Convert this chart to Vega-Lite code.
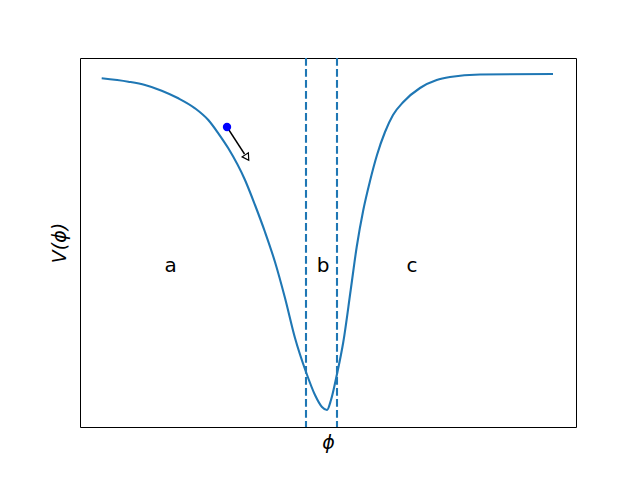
{
  "$schema": "https://vega.github.io/schema/vega-lite/v6.json",
  "width": 496,
  "height": 369,
  "autosize": {"type": "none"},
  "padding": {"left": 80, "top": 58, "right": 64, "bottom": 53},
  "background": "white",
  "config": {"view": {"stroke": "black", "strokeWidth": 1}},
  "datasets": {
    "curve": [
      {"phi": 21.7, "V": 348.7}, {"phi": 48.3, "V": 345.3}, {"phi": 65, "V": 342}, {"phi": 81.7, "V": 336.3},
      {"phi": 98.3, "V": 328.7}, {"phi": 115, "V": 318.7}, {"phi": 128.3, "V": 307}, {"phi": 138.3, "V": 293.7},
      {"phi": 148.3, "V": 278.7}, {"phi": 165, "V": 247},
      {"phi": 175, "V": 222}, {"phi": 185, "V": 195}, {"phi": 195, "V": 165}, {"phi": 205, "V": 129},
      {"phi": 215, "V": 89}, {"phi": 226, "V": 55}, {"phi": 235, "V": 32}, {"phi": 242, "V": 20},
      {"phi": 247, "V": 17}, {"phi": 251, "V": 27}, {"phi": 257, "V": 53}, {"phi": 263.3, "V": 85},
      {"phi": 270.7, "V": 137}, {"phi": 276.7, "V": 180}, {"phi": 283.3, "V": 217}, {"phi": 290, "V": 246},
      {"phi": 297, "V": 272}, {"phi": 305, "V": 295}, {"phi": 313, "V": 312}, {"phi": 323.3, "V": 325},
      {"phi": 340, "V": 339}, {"phi": 356.7, "V": 347}, {"phi": 370, "V": 350}, {"phi": 400, "V": 352.5},
      {"phi": 473, "V": 353}
    ],
    "bounds": [{"phi": 226}, {"phi": 257}],
    "labels": [
      {"phi": 90.5, "V": 155, "t": "a"},
      {"phi": 243, "V": 155, "t": "b"},
      {"phi": 332, "V": 155, "t": "c"}
    ],
    "ball": [{"phi": 147, "V": 300, "phi2": 164.5, "V2": 273, "hx": 167, "hy": 269.5}]
  },
  "encoding": {
    "x": {"field": "phi", "type": "quantitative", "scale": {"domain": [0, 496], "nice": false, "zero": false},
      "axis": {"title": "ϕ", "labels": false, "ticks": false, "domain": false, "grid": false,
        "titleFont": "DejaVu Sans", "titleFontStyle": "italic", "titleFontWeight": "normal", "titleFontSize": 19, "titleColor": "black", "titlePadding": 6}},
    "y": {"field": "V", "type": "quantitative", "scale": {"domain": [0, 369], "nice": false, "zero": false},
      "axis": {"title": "V(ϕ)", "labels": false, "ticks": false, "domain": false, "grid": false,
        "titleFont": "DejaVu Sans", "titleFontStyle": "italic", "titleFontWeight": "normal", "titleFontSize": 19, "titleColor": "black", "titlePadding": 11}}
  },
  "layer": [
    {"data": {"name": "curve"}, "mark": {"type": "line", "color": "#1f77b4", "strokeWidth": 2.1, "interpolate": "monotone"}},
    {"data": {"name": "bounds"}, "mark": {"type": "rule", "color": "#1f77b4", "strokeWidth": 2.1, "strokeDash": [7.7, 3.3]},
      "encoding": {"y": null}},
    {"data": {"name": "labels"}, "mark": {"type": "text", "font": "DejaVu Sans", "fontSize": 20, "color": "black", "align": "center", "baseline": "alphabetic"},
      "encoding": {"text": {"field": "t"}}},
    {"data": {"name": "ball"}, "mark": {"type": "rule", "color": "black", "strokeWidth": 1.4},
      "encoding": {"x2": {"field": "phi2"}, "y2": {"field": "V2"}}},
    {"data": {"name": "ball"}, "mark": {"type": "point", "shape": "triangle-up", "filled": false, "stroke": "black", "strokeWidth": 1.2, "size": 55, "angle": 147, "fill": "white", "opacity": 1},
      "encoding": {"x": {"field": "hx", "type": "quantitative"}, "y": {"field": "hy", "type": "quantitative"}}},
    {"data": {"name": "ball"}, "mark": {"type": "point", "filled": true, "color": "blue", "size": 70, "opacity": 1}}
  ]
}
